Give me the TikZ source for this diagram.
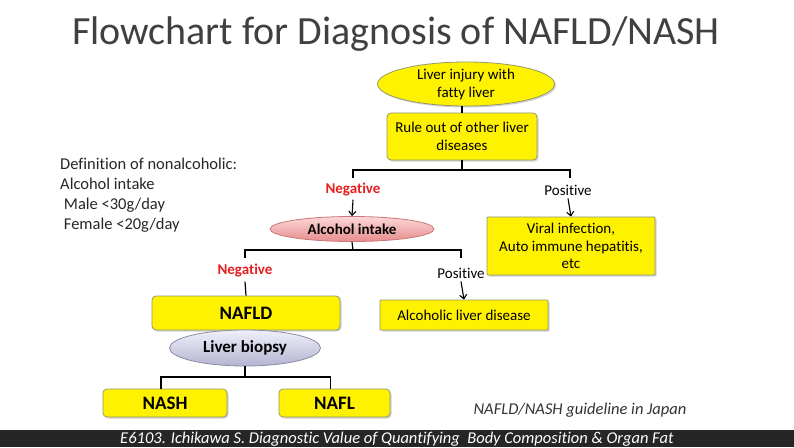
\documentclass[tikz,border=0pt]{standalone}
\usepackage{fontspec}
\setmainfont[Ligatures=NoCommon]{Carlito}
\usetikzlibrary{shapes.geometric,shadows,arrows.meta}
\definecolor{boxline}{RGB}{150,150,110}
\definecolor{titlegray}{RGB}{64,64,64}
\definecolor{negred}{RGB}{230,30,30}
\definecolor{barcol}{RGB}{38,38,38}
\tikzset{
  ybox/.style={rectangle, rounded corners=4pt, fill=yellow, draw=boxline, line width=0.8pt,
    drop shadow={opacity=0.35, shadow xshift=1.5pt, shadow yshift=-1.5pt},
    align=center, inner sep=0pt, font=\fontsize{15}{17.5}\selectfont},
  yell/.style={ellipse, fill=yellow, draw=boxline, line width=0.8pt,
    drop shadow={opacity=0.35, shadow xshift=1.5pt, shadow yshift=-1.5pt},
    align=center, inner sep=0pt, font=\fontsize{15}{18}\selectfont},
  pinkell/.style={ellipse, top color={rgb,255:red,252;green,215;blue,215}, bottom color={rgb,255:red,232;green,140;blue,140},
    draw={rgb,255:red,200;green,120;blue,120}, line width=0.8pt, inner sep=0pt,
    font=\fontsize{15}{17}\selectfont\bfseries},
  lavell/.style={ellipse, top color={rgb,255:red,240;green,240;blue,250}, bottom color={rgb,255:red,180;green,180;blue,210},
    draw={rgb,255:red,140;green,140;blue,165}, line width=0.8pt, inner sep=0pt,
    font=\fontsize{17}{19}\selectfont\bfseries},
  bigtext/.style={font=\fontsize{19}{21}\selectfont\bfseries},
  conn/.style={draw=black, line width=1.2pt},
  arr/.style={draw=black, line width=1.1pt, -{Straight Barb[length=4pt,width=7pt]}},
  neglab/.style={text=negred, font=\fontsize{15}{17}\selectfont\bfseries, inner sep=0pt},
  poslab/.style={text=black, font=\fontsize{15}{17}\selectfont, inner sep=0pt},
}
\begin{document}
\begin{tikzpicture}[x=1pt,y=-1pt]
\useasboundingbox (0,0) rectangle (794,447);
\fill[white] (0,0) rectangle (794,447);
% title
\node (title) [text=titlegray, font=\fontsize{40}{44}\selectfont, inner sep=0pt] at (396,34) {Flowchart for Diagnosis of NAFLD/NASH};
% definition text
\node (def) [anchor=north west, align=left, inner sep=0pt, font=\fontsize{16.5}{20}\selectfont, text=black!85] at (60,158)
  {Definition of nonalcoholic:\\Alcohol intake\\\ Male <30g/day\\\ Female <20g/day};
% nodes
\node (inj) [yell, minimum width=177, minimum height=44] at (466,84) {Liver injury with\\fatty liver};
\node (rule) [ybox, minimum width=150, minimum height=47] at (462,136.5) {Rule out of other liver\\diseases};
\node (neg1) [neglab] at (353,190) {Negative};
\node (pos1) [poslab] at (568,190) {Positive};
\node (alc) [pinkell, minimum width=164, minimum height=25] at (352,229) {Alcohol intake};
\node (viral) [ybox, rounded corners=1pt, minimum width=168, minimum height=58] at (571,246) {Viral infection,\\Auto immune hepatitis,\\etc};
\node (neg2) [neglab] at (245,271) {Negative};
\node (pos2) [poslab] at (461,273) {Positive};
\node (nafld) [ybox, bigtext, minimum width=188, minimum height=34] at (246,313) {NAFLD};
\node (ald) [ybox, rounded corners=1pt, minimum width=168, minimum height=30] at (464,315) {Alcoholic liver disease};
\node (bio) [lavell, minimum width=151, minimum height=36] at (245,348) {Liver biopsy};
\node (nash) [ybox, bigtext, minimum width=124, minimum height=28] at (165,403) {NASH};
\node (nafl) [ybox, bigtext, minimum width=111, minimum height=28] at (334.5,403) {NAFL};
% connectors
\coordinate (j1) at (462,170);
\coordinate (j1l) at (353,170);
\coordinate (j1r) at (570,170);
\coordinate (j2) at (353,250);
\coordinate (j2l) at (245,250);
\coordinate (j2r) at (461,250);
\coordinate (j3) at (245,377);
\draw[conn] (rule.north |- inj.south) -- (rule.north);
\draw[conn] (rule.south) -- (j1);
\draw[conn] ([yshift=-8]j1l) -- (j1l) -- (j1r) -- ([yshift=-8]j1r);
\draw[arr] ([yshift=-3]neg1.south) -- (alc.north);
\draw[arr] ([yshift=-3]pos1.south) -- (viral.north);
\draw[conn] (alc.south) -- (j2);
\draw[conn] ([yshift=-8]j2l) -- (j2l) -- (j2r) -- ([yshift=-8]j2r);
\draw[conn] ([yshift=-4]neg2.south) -- (nafld.north);
\draw[arr] ([yshift=-3]pos2.south) -- (ald.north);
\draw[conn] (bio.south) -- (j3);
\draw[conn] ([xshift=-4]nash.north) -- ([xshift=-4]nash.north |- j3) -- ([xshift=-4]nafl.north |- j3) -- ([xshift=-4]nafl.north);
% guideline note
\node (guide) [font=\fontsize{16.5}{18}\selectfont\itshape, text=black!80, inner sep=0pt] at (580,410) {NAFLD/NASH guideline in Japan};
% bottom bar
\fill[barcol] (0,430) rectangle (794,447);
\node (foot) [text=white, font=\fontsize{16.5}{17}\selectfont\itshape, inner sep=0pt] at (397,439) {E6103. Ichikawa S. Diagnostic Value of Quantifying\ \ Body Composition \& Organ Fat};
\end{tikzpicture}
\end{document}
